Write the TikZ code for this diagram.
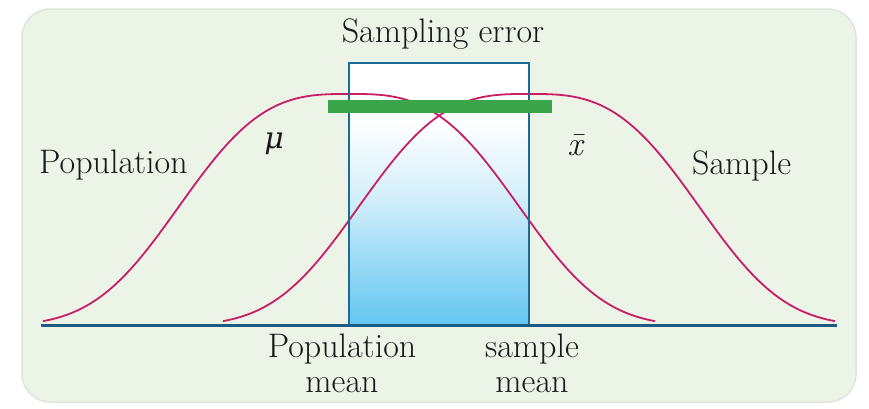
\documentclass[tikz,border=0pt]{standalone}
\usepackage{fontspec}
\newfontfamily\greekfont{DejaVu Serif}
\definecolor{bgfill}{RGB}{236,243,231}
\definecolor{bgedge}{RGB}{222,230,218}
\definecolor{axisblue}{RGB}{28,92,130}
\definecolor{boxblue}{RGB}{30,106,150}
\definecolor{skyblue}{RGB}{98,198,240}
\definecolor{midblue}{RGB}{178,226,247}
\definecolor{curvered}{RGB}{200,30,100}
\definecolor{bargreen}{RGB}{58,165,74}
\definecolor{txt}{RGB}{25,25,25}
\tikzset{
  lbl/.style={font=\fontsize{34}{36}\selectfont, text=txt, inner sep=0pt},
  curve/.style={draw=curvered, line width=1.8pt},
}
\begin{document}
\begin{tikzpicture}[x=1pt,y=-1pt]
\useasboundingbox (0,0) rectangle (869,408);
\fill[white] (0,0) rectangle (869,408);
% background panel
\filldraw[fill=bgfill, draw=bgedge, line width=1.5pt, rounded corners=28pt] (22,9) rectangle (856,402);
% shaded box
\fill[white] (349,63) rectangle (529,121);
\shade[top color=white, bottom color=midblue!55] (349,120) rectangle (529,196);
\shade[top color=midblue!55, bottom color=skyblue] (349,195) rectangle (529,326);
% curves
\draw[curve] plot[domain=-306:306, samples=121, smooth] ({349+\x}, {326-232*exp(-((abs(\x)/195)^3))});
\draw[curve] plot[domain=-306:306, samples=121, smooth] ({529+\x}, {326-232*exp(-((abs(\x)/195)^3))});
% box outline
\draw[boxblue, line width=2.6pt] (349,326) -- (349,63) -- (529,63) -- (529,326);
% axis
\coordinate (axl) at (41,325);
\coordinate (axr) at (837,325);
\draw[axisblue, line width=3pt] (axl) -- (axr);
% green bar
\fill[bargreen] (328,100) rectangle (552,113);
% labels
\node[lbl, anchor=base] (se) at (443,42) {Sampling error};
\node[lbl, anchor=base west] (pop) at (39,173) {Population};
\node[lbl, anchor=base west] (samp) at (692,174) {Sample};
\node[lbl, anchor=base] (mu) at (274,148) {\greekfont\itshape\fontsize{30}{32}\selectfont μ};
\node[lbl, anchor=base] (xb) at (575,155) {\itshape \=x};
\node[lbl, anchor=base] (pm1) at (342,357) {Population};
\node[lbl, anchor=base] (pm2) at (342,392) {mean};
\node[lbl, anchor=base] (sm1) at (532,357) {sample};
\node[lbl, anchor=base] (sm2) at (532,392) {mean};
\end{tikzpicture}
\end{document}
